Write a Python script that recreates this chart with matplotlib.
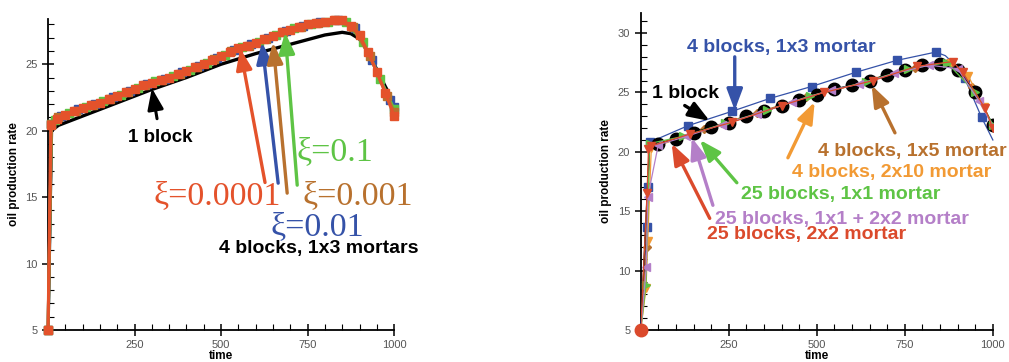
import matplotlib
matplotlib.use("Agg")
import matplotlib.pyplot as plt
from matplotlib.ticker import MultipleLocator

plt.rcParams['font.family'] = ['Liberation Sans', 'DejaVu Sans']

# ---------- left panel data ----------
t_red = [0, 8, 25, 50, 75, 100, 125, 150, 175, 200, 225, 250, 275, 300, 325, 350, 375, 400,
         425, 450, 475, 500, 525, 550, 575, 600, 625, 650, 675, 700, 725, 750, 775, 800,
         825, 850, 875, 900, 925, 950, 975, 1000]
v_red = [5.0, 20.4, 20.9, 21.2, 21.5, 21.7, 21.9, 22.1, 22.4, 22.6, 22.9, 23.1, 23.4, 23.6,
         23.8, 24.0, 24.3, 24.5, 24.8, 25.0, 25.3, 25.6, 25.9, 26.2, 26.4, 26.6, 26.9, 27.1,
         27.4, 27.6, 27.8, 28.0, 28.1, 28.2, 28.3, 28.3, 27.9, 27.2, 25.9, 24.4, 22.8, 21.1]

t_blue = [0, 10, 37, 87, 137, 187, 237, 287, 337, 387, 437, 487, 537, 587, 637, 687, 737,
          787, 837, 887, 937, 987, 1000]
v_blue = [5.0, 20.5, 21.1, 21.6, 22.0, 22.5, 23.0, 23.5, 23.9, 24.4, 24.9, 25.5, 26.1, 26.5,
          27.0, 27.5, 27.9, 28.2, 28.3, 27.7, 25.3, 22.3, 21.8]

t_brown = [0, 10, 30, 80, 130, 180, 230, 280, 330, 380, 430, 480, 530, 580, 630, 680, 730,
           780, 830, 880, 930, 980, 1000]
v_brown = [5.0, 20.5, 21.0, 21.5, 21.9, 22.4, 22.9, 23.4, 23.8, 24.3, 24.8, 25.4, 26.0, 26.4,
           26.9, 27.4, 27.8, 28.1, 28.3, 27.8, 25.6, 22.6, 21.4]

t_green = [0, 10, 20, 60, 110, 160, 210, 260, 310, 360, 410, 460, 510, 560, 610, 660, 710,
           760, 810, 860, 910, 960, 1000]
v_green = [5.0, 20.5, 20.8, 21.3, 21.8, 22.2, 22.7, 23.2, 23.7, 24.1, 24.6, 25.1, 25.7, 26.3,
           26.7, 27.2, 27.7, 28.0, 28.2, 28.2, 26.7, 23.9, 21.6]

t_one = [0, 10, 30, 100, 200, 300, 400, 500, 600, 700, 800, 850, 875, 900, 925, 950, 975, 1000]
v_one = [5.0, 20.0, 20.4, 21.1, 22.1, 23.1, 24.0, 25.0, 25.8, 26.5, 27.2, 27.4, 27.3, 26.9,
         25.9, 24.6, 23.3, 22.1]

# ---------- right panel data ----------
r_t_black = [0, 25, 50, 100, 150, 200, 250, 300, 350, 400, 450, 500, 550, 600, 650, 700, 750,
             800, 850, 900, 950, 1000]
r_v_black = [5.0, 20.5, 20.7, 21.1, 21.6, 22.1, 22.4, 23.0, 23.4, 23.9, 24.4, 24.8, 25.3, 25.6,
             26.0, 26.5, 26.9, 27.3, 27.4, 26.9, 25.0, 22.3]

r_t_blue = [0, 18, 20, 25, 134, 258, 367, 485, 611, 727, 838, 865, 890, 920, 968, 1000]
r_v_blue = [5.0, 13.7, 17.0, 20.8, 22.2, 23.4, 24.5, 25.5, 26.7, 27.7, 28.4, 28.1, 27.4, 26.2,
            22.9, 21.0]

r_t_orange = [0, 15, 20, 30, 150, 300, 450, 600, 700, 800, 880, 930, 975, 1000]
r_v_orange = [5.0, 8.5, 12.5, 20.3, 21.6, 23.0, 24.4, 25.6, 26.5, 27.3, 27.5, 26.4, 23.8, 22.1]

r_t_brown = [0, 17, 25, 180, 330, 470, 640, 780, 870, 940, 1000]
r_v_brown = [5.0, 12.0, 20.5, 21.9, 23.3, 24.6, 25.9, 27.1, 27.5, 25.5, 22.2]

r_t_green = [0, 15, 25, 120, 240, 360, 480, 640, 760, 870, 950, 1000]
r_v_green = [5.0, 8.8, 20.7, 21.3, 22.4, 23.5, 24.7, 25.9, 27.0, 27.5, 25.0, 22.3]

r_t_violet = [0, 16, 20, 50, 130, 230, 330, 430, 540, 620, 720, 820, 900, 960, 1000]
r_v_violet = [5.0, 10.3, 16.2, 20.6, 21.3, 22.3, 23.2, 24.2, 25.2, 25.7, 26.6, 27.3, 27.0, 24.3,
              22.2]

r_t_red = [0, 18, 22, 30, 140, 260, 400, 520, 660, 784, 886, 914, 977, 1000]
r_v_red = [5.0, 16.5, 20.2, 20.5, 21.5, 22.5, 23.9, 25.0, 26.0, 27.2, 27.6, 26.7, 23.7, 22.0]

RED = '#E4522B'
BLUE = '#3552A8'
BROWN = '#B8712E'
GREEN = '#5EC445'
ORANGE = '#F29A34'
VIOLET = '#B47FC8'
RRED = '#DB4A2C'

fig = plt.figure(figsize=(10.09, 3.62), dpi=100)
axL = fig.add_axes([0.0476, 0.0884, 0.343, 0.859])
axR = fig.add_axes([0.635, 0.0884, 0.349, 0.876])


def style(ax, ymax):
    ax.set_xlim(0, 1000)
    ax.set_ylim(5, ymax)
    for s in ['top', 'right']:
        ax.spines[s].set_visible(False)
    for s in ['left', 'bottom']:
        ax.spines[s].set_linewidth(1.3)
    ax.xaxis.set_minor_locator(MultipleLocator(50))
    ax.yaxis.set_minor_locator(MultipleLocator(1))
    ax.tick_params(which='major', direction='inout', length=9, width=1.1,
                   labelsize=8, labelcolor='#555555', pad=3)
    ax.tick_params(which='minor', direction='in', length=4, width=0.8)
    ax.set_xticks([250, 500, 750, 1000])
    ax.set_yticks(list(range(5, int(ymax) + 1, 5)))
    ax.set_xlabel('time', fontsize=8.5, fontweight='bold', labelpad=0)
    ax.set_ylabel('oil production rate', fontsize=8.5, fontweight='bold', labelpad=4)


style(axL, 28.4)
style(axR, 31.7)

# ---------- left ----------
axL.plot(t_one, v_one, color='black', lw=2.4, zorder=3)
ms = dict(marker='s', ms=6, lw=2.2, clip_on=False)
axL.plot(t_blue, v_blue, color=BLUE, zorder=4, **ms)
axL.plot(t_green, v_green, color=GREEN, zorder=4, **ms)
axL.plot(t_brown, v_brown, color=BROWN, zorder=4, **ms)
axL.plot(t_red, v_red, color=RED, zorder=5, **ms)


def arrow(ax, tail, head, color, lw=2.4):
    ax.annotate('', xy=head, xytext=tail,
                arrowprops=dict(arrowstyle='-|>,head_length=0.8,head_width=0.3',
                                color=color, lw=lw, shrinkA=0, shrinkB=0,
                                mutation_scale=16),
                zorder=6, annotation_clip=False)


serif = dict(family=['Liberation Serif', 'DejaVu Serif'], fontsize=24.5,
             ha='center', va='center', zorder=7)
axL.text(324, 19.5, '1 block', fontsize=13.5, fontweight='bold', ha='center', va='center')
arrow(axL, (315, 20.9), (300, 23.2), 'black', lw=2.2)
axL.text(490, 15.1, 'ξ=0.0001', color=RED, **serif)
axL.text(779, 12.75, 'ξ=0.01', color=BLUE, **serif)
axL.text(894, 15.1, 'ξ=0.001', color=BROWN, **serif)
axL.text(829, 18.4, 'ξ=0.1', color=GREEN, **serif)
arrow(axL, (627, 16.1), (555, 26.2), RED)
arrow(axL, (665, 16.05), (618, 26.65), BLUE)
arrow(axL, (691, 15.3), (650, 26.65), BROWN)
arrow(axL, (720, 15.9), (685, 27.4), GREEN)
axL.text(783, 11.1, '4 blocks, 1x3 mortars', fontsize=14, fontweight='bold',
         ha='center', va='center')

# ---------- right ----------
axR.plot(r_t_blue, r_v_blue, color=BLUE, lw=0.9, marker='s', ms=6,
         markevery=[1, 2, 3, 4, 5, 6, 7, 8, 9, 10, 13, 14], clip_on=False, zorder=3)
axR.plot(r_t_brown, r_v_brown, color=BROWN, lw=0.9, marker='D', ms=4.5,
         markevery=slice(1, None), zorder=4)
axR.plot(r_t_orange, r_v_orange, color=ORANGE, lw=0.9, marker='v', ms=6,
         markevery=slice(1, None), zorder=4)
axR.plot(r_t_black, r_v_black, color='black', lw=1.0, marker='o', ms=9,
         markevery=slice(2, None), zorder=4)
axR.plot(r_t_green, r_v_green, color=GREEN, lw=0.9, marker='>', ms=6,
         markevery=slice(1, None), zorder=5)
axR.plot(r_t_violet, r_v_violet, color=VIOLET, lw=0.9, marker='<', ms=6,
         markevery=slice(1, None), zorder=5)
axR.plot(r_t_red, r_v_red, color=RRED, lw=0.9, marker='v', ms=6,
         markevery=slice(1, None), zorder=5)
axR.plot(r_t_red[:1], r_v_red[:1], color=RRED, marker='o', ms=9, clip_on=False, zorder=6)

lab = dict(fontsize=14, fontweight='bold', ha='center', va='center', zorder=7)
axR.text(399, 28.8, '4 blocks, 1x3 mortar', color=BLUE, **lab)
arrow(axR, (267, 28.0), (267, 23.5), BLUE)
axR.text(126, 24.95, '1 block', color='black', **lab)
arrow(axR, (125, 23.9), (196, 22.6), 'black')
axR.text(770, 20.0, '4 blocks, 1x5 mortar', color=BROWN, **lab)
arrow(axR, (722, 21.6), (656, 25.6), BROWN)
axR.text(712, 18.3, '4 blocks, 2x10 mortar', color=ORANGE, **lab)
arrow(axR, (418, 19.5), (494, 24.2), ORANGE)
axR.text(567, 16.4, '25 blocks, 1x1 mortar', color=GREEN, **lab)
arrow(axR, (273, 17.4), (168, 21.0), GREEN)
axR.text(572, 14.3, '25 blocks, 1x1 + 2x2 mortar', color=VIOLET, **lab)
arrow(axR, (205, 15.5), (145, 21.2), VIOLET)
axR.text(470, 13.0, '25 blocks, 2x2 mortar', color=RRED, **lab)
arrow(axR, (196, 14.4), (88, 20.7), RRED)

fig.savefig('out.png', dpi=100)
